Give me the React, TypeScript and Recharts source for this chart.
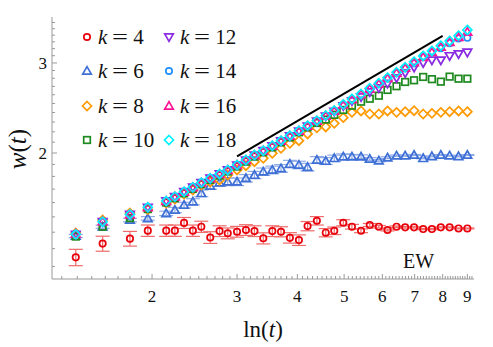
import React from "react";
import { ScatterChart, Scatter, XAxis, YAxis, ErrorBar } from "recharts";

// ln(t) sampling points
const lnT = [1.39, 1.58, 1.8, 1.96, 2.14, 2.23, 2.33, 2.43, 2.53, 2.64, 2.76, 2.87, 3.0, 3.13, 3.26, 3.4, 3.55, 3.7, 3.86, 4.03, 4.2, 4.39, 4.58, 4.77, 4.98, 5.19, 5.42, 5.65, 5.9, 6.15, 6.42, 6.69, 6.98, 7.29, 7.6, 7.93, 8.27, 8.63, 9.0];

const w4 = [1.25, 1.33, 1.36, 1.41, 1.41, 1.41, 1.46, 1.41, 1.435, 1.367, 1.407, 1.393, 1.403, 1.414, 1.407, 1.362, 1.407, 1.403, 1.365, 1.351, 1.439, 1.474, 1.397, 1.409, 1.461, 1.435, 1.409, 1.446, 1.435, 1.414, 1.435, 1.431, 1.431, 1.42, 1.42, 1.431, 1.431, 1.424, 1.424];
const err4 = [0.046, 0.045, 0.045, 0.036, 0.036, 0.036, 0.036, 0.036, 0.036, 0.036, 0.034, 0.034, 0.034, 0.034, 0.034, 0.034, 0.034, 0.032, 0.032, 0.032, 0.03, 0.028, 0.026, 0.024, 0.02, 0.015, 0.012, 0.01, 0.008, 0.006, 0.005, 0.005, 0.004, 0.004, 0.004, 0.003, 0.003, 0.003, 0.003];

const w6 = [1.376, 1.435, 1.479, 1.49, 1.524, 1.547, 1.582, 1.606, 1.668, 1.724, 1.75, 1.757, 1.757, 1.785, 1.811, 1.839, 1.853, 1.866, 1.903, 1.895, 1.877, 1.938, 1.929, 1.953, 1.967, 1.967, 1.967, 1.947, 1.932, 1.958, 1.976, 1.976, 1.982, 1.953, 1.97, 1.982, 1.976, 1.97, 1.982];
const err6 = [0.01, 0.01, 0.012, 0.012, 0.015, 0.018, 0.02, 0.022, 0.025, 0.025, 0.028, 0.03, 0.03, 0.03, 0.03, 0.03, 0.032, 0.032, 0.032, 0.032, 0.032, 0.03, 0.03, 0.028, 0.025, 0.02, 0.016, 0.012, 0.01, 0.008, 0.006, 0.005, 0.005, 0.004, 0.004, 0.004, 0.004, 0.004, 0.004];

const w8 = [1.395, 1.479, 1.526, 1.551, 1.597, 1.626, 1.663, 1.693, 1.732, 1.755, 1.771, 1.811, 1.853, 1.889, 1.923, 1.953, 1.997, 2.043, 2.089, 2.114, 2.179, 2.24, 2.249, 2.286, 2.345, 2.402, 2.417, 2.384, 2.384, 2.417, 2.402, 2.409, 2.42, 2.384, 2.391, 2.402, 2.409, 2.417, 2.409];

const w10 = [1.373, 1.435, 1.492, 1.554, 1.6, 1.632, 1.668, 1.702, 1.738, 1.772, 1.807, 1.84, 1.882, 1.924, 1.968, 2.007, 2.052, 2.099, 2.147, 2.196, 2.245, 2.29, 2.325, 2.375, 2.428, 2.475, 2.52, 2.554, 2.589, 2.657, 2.702, 2.754, 2.775, 2.817, 2.789, 2.758, 2.821, 2.795, 2.795];

const w12 = [1.386, 1.467, 1.516, 1.565, 1.61, 1.642, 1.679, 1.713, 1.749, 1.784, 1.819, 1.852, 1.893, 1.936, 1.98, 2.019, 2.064, 2.11, 2.158, 2.206, 2.256, 2.306, 2.36, 2.41, 2.472, 2.528, 2.574, 2.632, 2.68, 2.735, 2.804, 2.868, 2.94, 3.0, 3.037, 3.037, 3.096, 3.124, 3.146];

const w14 = [1.388, 1.469, 1.516, 1.566, 1.61, 1.642, 1.68, 1.713, 1.75, 1.784, 1.819, 1.852, 1.894, 1.937, 1.981, 2.02, 2.066, 2.113, 2.161, 2.21, 2.26, 2.311, 2.366, 2.42, 2.486, 2.547, 2.604, 2.67, 2.73, 2.798, 2.865, 2.928, 2.995, 3.09, 3.16, 3.205, 3.28, 3.35, 3.36];

const w16 = [1.39, 1.47, 1.515, 1.565, 1.61, 1.642, 1.678, 1.713, 1.749, 1.784, 1.818, 1.852, 1.894, 1.936, 1.98, 2.02, 2.065, 2.112, 2.16, 2.208, 2.258, 2.31, 2.364, 2.418, 2.485, 2.546, 2.603, 2.67, 2.73, 2.8, 2.868, 2.932, 3.006, 3.08, 3.15, 3.225, 3.295, 3.37, 3.45];

const w18 = [1.387, 1.468, 1.517, 1.566, 1.611, 1.643, 1.68, 1.714, 1.75, 1.785, 1.82, 1.853, 1.895, 1.938, 1.982, 2.021, 2.067, 2.114, 2.162, 2.211, 2.262, 2.313, 2.368, 2.422, 2.49, 2.551, 2.609, 2.677, 2.738, 2.808, 2.877, 2.942, 3.018, 3.096, 3.167, 3.243, 3.313, 3.393, 3.481];

// guide line
const guideLnT = [3, 8];
const guideW = [1.97, 3.39];

const xTicks = [1.3, 1.4, 1.5, 1.6, 1.7, 1.8, 1.9, 2, 2.1, 2.2, 2.3, 2.4, 2.5, 2.6, 2.7, 2.8, 2.9, 3, 3.1, 3.2, 3.3, 3.4, 3.5, 3.6, 3.7, 3.8, 3.9, 4, 4.1, 4.2, 4.3, 4.4, 4.5, 4.6, 4.7, 4.8, 4.9, 5, 5.1, 5.2, 5.3, 5.4, 5.5, 5.6, 5.7, 5.8, 5.9, 6, 6.1, 6.2, 6.3, 6.4, 6.5, 6.6, 6.7, 6.8, 6.9, 7, 7.1, 7.2, 7.3, 7.4, 7.5, 7.6, 7.7, 7.8, 7.9, 8, 8.1, 8.2, 8.3, 8.4, 8.5, 8.6, 8.7, 8.8, 8.9, 9, 9.1, 9.2];
const xLabels = [2, 3, 4, 5, 6, 7, 8, 9];
const yTicks = [1.2, 1.3, 1.4, 1.5, 1.6, 1.7, 1.8, 1.9, 2, 2.1, 2.2, 2.3, 2.4, 2.5, 2.6, 2.7, 2.8, 2.9, 3, 3.1, 3.2, 3.3, 3.4, 3.5, 3.6];
const yLabels = [2, 3];

const FONT = "Liberation Serif";
const AXIS = "#999";

type Shape = "circle" | "up" | "down" | "diamond" | "square";

const series: { k: number; w: number[]; err?: number[]; color: string; shape: Shape; errColor?: string }[] = [
  { k: 4, w: w4, err: err4, color: "#e8000b", shape: "circle", errColor: "#ef6a6a" },
  { k: 6, w: w6, err: err6, color: "#3d6fd6", shape: "up", errColor: "#8eaae6" },
  { k: 8, w: w8, color: "#ff9a00", shape: "diamond" },
  { k: 10, w: w10, color: "#1f8a1f", shape: "square" },
  { k: 12, w: w12, color: "#8a2be2", shape: "down" },
  { k: 14, w: w14, color: "#1e8fff", shape: "circle" },
  { k: 16, w: w16, color: "#ff1493", shape: "up" },
  { k: 18, w: w18, color: "#00f0ff", shape: "diamond" },
];

const marker = (shape: Shape, color: string, cx: number, cy: number) => {
  const sw = 1.7;
  switch (shape) {
    case "circle":
      return <circle cx={cx} cy={cy} r={3.2} fill="none" stroke={color} strokeWidth={sw} />;
    case "up":
      return <polygon points={`${cx},${cy - 4.3} ${cx + 4.3},${cy + 3.2} ${cx - 4.3},${cy + 3.2}`} fill="none" stroke={color} strokeWidth={sw} />;
    case "down":
      return <polygon points={`${cx},${cy + 4.3} ${cx + 4.3},${cy - 3.2} ${cx - 4.3},${cy - 3.2}`} fill="none" stroke={color} strokeWidth={sw} />;
    case "diamond":
      return <polygon points={`${cx},${cy - 4.5} ${cx + 4.5},${cy} ${cx},${cy + 4.5} ${cx - 4.5},${cy}`} fill="none" stroke={color} strokeWidth={sw} />;
    default:
      return <rect x={cx - 3.3} y={cy - 3.3} width={6.6} height={6.6} fill="none" stroke={color} strokeWidth={sw} />;
  }
};

const XTick = (props: any) => {
  const { x, y, payload } = props;
  const v = payload.value as number;
  const major = xLabels.some((m) => Math.abs(m - v) < 1e-6);
  return (
    <g>
      <line x1={x} x2={x} y1={y} y2={y - (major ? 5 : 3)} stroke={AXIS} />
      {major && (
        <text x={x} y={y + 23} textAnchor="middle" style={{ fontFamily: FONT, fontSize: 17 }} fill="#111">
          {Math.round(v)}
        </text>
      )}
    </g>
  );
};

const YTick = (props: any) => {
  const { x, y, payload } = props;
  const v = payload.value as number;
  const major = yLabels.some((m) => Math.abs(m - v) < 1e-6);
  return (
    <g>
      <line x1={x} x2={x + (major ? 5 : 3)} y1={y} y2={y} stroke={AXIS} />
      {major && (
        <text x={x - 5} y={y + 6} textAnchor="end" style={{ fontFamily: FONT, fontSize: 17 }} fill="#111">
          {Math.round(v)}
        </text>
      )}
    </g>
  );
};

const legendCols = [87, 169];
const legendRows = [36.7, 70.7, 106, 140];

export default function App() {
  const guide = guideLnT.map((x, i) => ({ x, y: guideW[i] }));

  return (
    <div style={{ position: "absolute", left: 0, top: 0, width: 493, height: 347, background: "#fff", fontFamily: FONT }}>
      <ScatterChart width={493} height={347} margin={{ top: 17, right: 19, bottom: 38, left: 12 }}>
        <XAxis
          dataKey="x"
          type="number"
          scale="log"
          domain={[1.241, 9.29]}
          allowDataOverflow
          ticks={xTicks}
          interval={0}
          tick={<XTick />}
          tickSize={0}
          tickMargin={0}
          tickLine={false}
          axisLine={{ stroke: AXIS }}
          height={30}
        />
        <XAxis xAxisId="top" orientation="top" dataKey="x" type="number" scale="log" domain={[1.241, 9.29]} allowDataOverflow tick={false} tickLine={false} axisLine={{ stroke: AXIS }} height={0} />
        <YAxis
          dataKey="y"
          type="number"
          scale="log"
          domain={[1.134, 3.69]}
          allowDataOverflow
          ticks={yTicks}
          interval={0}
          tick={<YTick />}
          tickSize={0}
          tickMargin={0}
          tickLine={false}
          axisLine={{ stroke: AXIS }}
          width={40}
        />
        <YAxis yAxisId="right" orientation="right" dataKey="y" type="number" scale="log" domain={[1.134, 3.69]} allowDataOverflow tick={false} tickLine={false} axisLine={{ stroke: AXIS }} width={0} />

        <Scatter data={guide} line={{ stroke: "#000", strokeWidth: 2 }} shape={() => <g />} isAnimationActive={false} />

        {series.map((s) => (
          <Scatter
            key={s.k}
            data={lnT.map((x, i) => ({ x, y: s.w[i], err: s.err ? s.err[i] : 0 }))}
            shape={(p: any) => marker(s.shape, s.color, p.cx, p.cy)}
            isAnimationActive={false}
          >
            {s.err && <ErrorBar dataKey="err" direction="y" width={7} stroke={s.errColor} strokeWidth={1.2} />}
          </Scatter>
        ))}
      </ScatterChart>

      {series.map((s, i) => {
        const col = Math.floor(i / 4);
        const row = i % 4;
        const mx = legendCols[col];
        const my = legendRows[row];
        return (
          <React.Fragment key={s.k}>
            <svg style={{ position: "absolute", left: mx - 7, top: my - 7 }} width={14} height={14}>
              {marker(s.shape, s.color, 7, 7)}
            </svg>
            <div style={{ position: "absolute", left: mx + 11, top: my - 11, height: 22, lineHeight: "22px", fontSize: 21, whiteSpace: "nowrap", color: "#111" }}>
              <i>k</i>
              <span style={{ margin: "0 7px", display: "inline-block", transform: "scaleX(1.35)" }}>=</span>
              {s.k}
            </div>
          </React.Fragment>
        );
      })}

      <div style={{ position: "absolute", left: 213, top: 318, width: 100, height: 24, lineHeight: "24px", fontSize: 23, textAlign: "center", color: "#111" }}>
        ln(<i>t</i>)
      </div>
      <div style={{ position: "absolute", left: -32, top: 137, width: 100, height: 24, lineHeight: "24px", fontSize: 25, textAlign: "center", transform: "rotate(-90deg)", color: "#111" }}>
        <i>w</i>(<i>t</i>)
      </div>
      <div style={{ position: "absolute", left: 403, top: 251, height: 20, lineHeight: "20px", fontSize: 20, color: "#111" }}>EW</div>
    </div>
  );
}
